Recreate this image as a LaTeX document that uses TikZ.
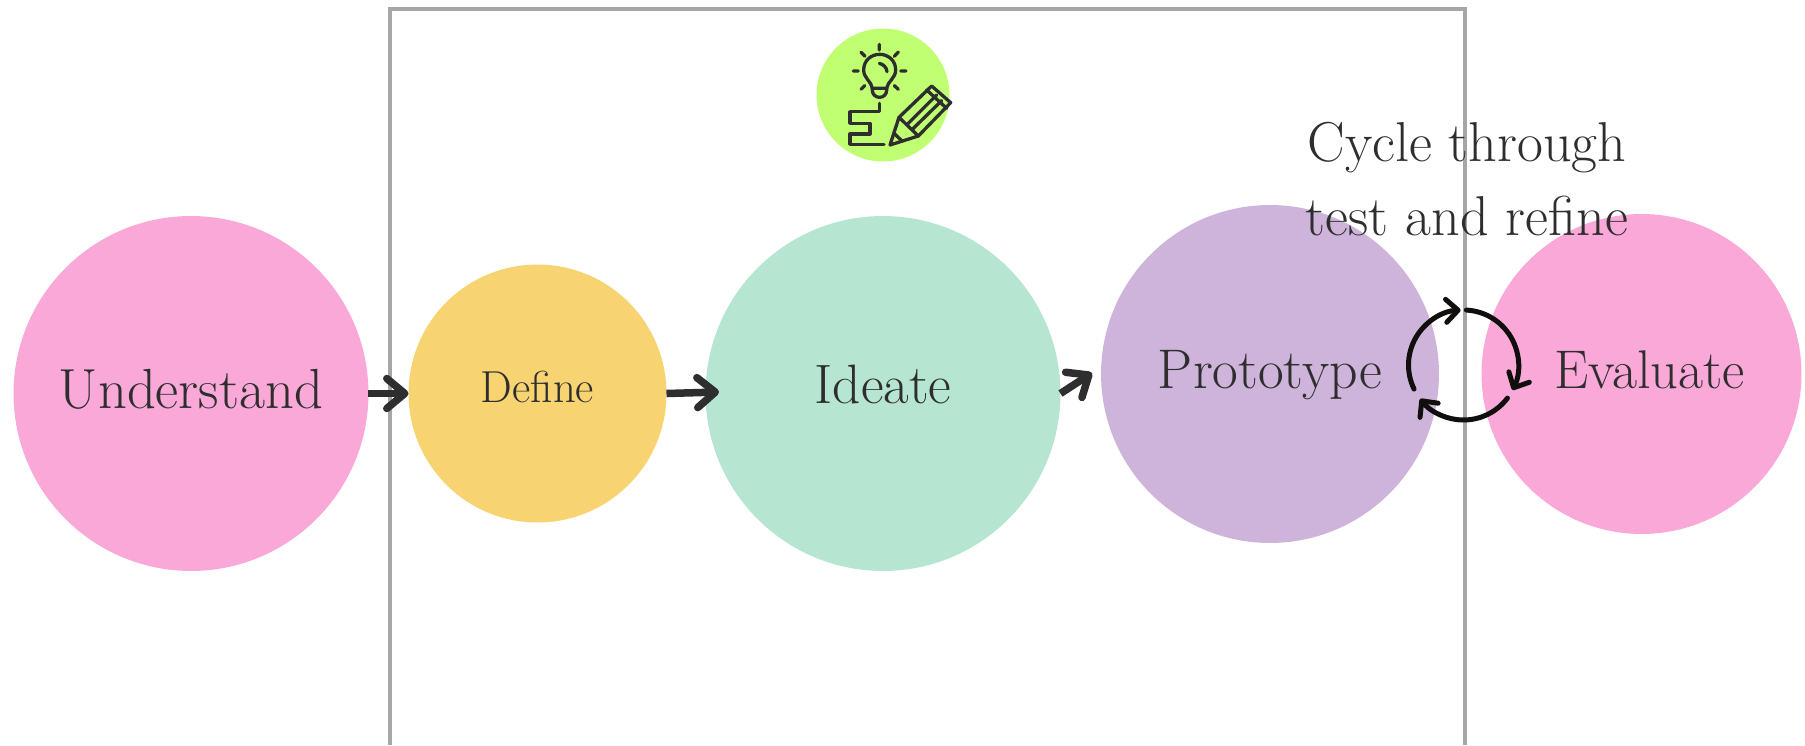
\documentclass[tikz,border=0pt]{standalone}
\usepackage{tikz}
\usetikzlibrary{calc,arrows.meta,positioning}
\definecolor{pinkfill}{HTML}{F9A8D8}
\definecolor{yellowfill}{HTML}{F7D372}
\definecolor{mintfill}{HTML}{B6E6D1}
\definecolor{lilacfill}{HTML}{CEB4DB}
\definecolor{limefill}{HTML}{C1FF72}
\definecolor{framegray}{HTML}{A6A6A6}
\definecolor{inkdark}{HTML}{2E2E2E}
\definecolor{inkblack}{HTML}{100F0D}
\begin{document}
\begin{tikzpicture}[x=0.02cm,y=0.02cm,
        stage/.style={circle,inner sep=0pt,outer sep=0pt,text=inkdark,text depth=0pt,text height=16pt},
        stagearrow/.style={draw=inkdark,line width=0.15cm,-{Straight Barb[round,length=0.36cm,width=0.6cm]}},
        cyclearrow/.style={draw=inkblack,line width=0.1cm,line cap=round,-{Straight Barb[round,length=0.24cm,width=0.46cm]}},
        iconline/.style={draw=inkdark,line width=0.066cm,line cap=round,line join=round}]
    \useasboundingbox (0,0) rectangle (1805,745);
    %frame, open at the bottom
    \draw[framegray,line width=0.08cm] (390,0) -- (390,736) -- (1465,736) -- (1465,0);
    %stages
    \node[stage,fill=pinkfill,minimum size=7.1cm,font=\fontsize{32.2}{38}\selectfont,text height=17.6pt] (understand) at (191,351.5) {Understand};
    \node[stage,fill=yellowfill,minimum size=5.16cm,font=\fontsize{25.5}{30}\selectfont,text height=10.7pt] (define) at (537.5,351.5) {Define};
    \node[stage,fill=mintfill,minimum size=7.1cm,font=\fontsize{31.6}{38}\selectfont,text height=11.4pt] (ideate) at (883,351.5) {Ideate};
    \node[stage,fill=lilacfill,minimum size=6.76cm,font=\fontsize{31.8}{38}\selectfont] (prototype) at (1270,371) {Prototype};
    \node[stage,fill=pinkfill,minimum size=6.4cm,font=\fontsize{31}{37}\selectfont] (evaluate) at (1641.5,371) {\hspace*{0.32cm}Evaluate};
    \node[circle,fill=limefill,inner sep=0pt,minimum size=2.66cm] (idea) at (883,650) {};
    %arrows between the stages
    \coordinate (ideatein) at (719,353);
    \coordinate (prototypein) at (1092,372);
    \draw[stagearrow] (understand.east) -- (define.west);
    \draw[stagearrow] (define.east) -- (ideatein);
    \draw[stagearrow] (ideate.east) -- (prototypein);
    %cycle
    \coordinate (cyclemid) at (1463.5,380);
    \foreach \from/\to in {206/93,87/-27,-37/-142}
        \draw[cyclearrow] (cyclemid) ++(\from:55) arc[start angle=\from,end angle=\to,radius=55];
    \node[text=inkdark,align=center,font=\fontsize{32}{42}\selectfont] (cycletext) at (1467,566) {Cycle through\\test and refine};
    %icon, in the lime circle
    \begin{scope}[shift={(790,735)},x=0.00667cm,y=-0.00667cm]
        \draw[iconline] (247,235) .. controls (245,215) and (221,205) .. (221,180) .. controls (221,150) and (245,133) .. (269,133) .. controls (293,133) and (317,150) .. (317,180) .. controls (317,205) and (292,215) .. (290,235) -- cycle;
        \draw[iconline,rounded corners=4pt] (247,235) -- (247,262) -- (290,262) -- (290,235);
        \draw[iconline] (268,160) .. controls (280,163) and (290,172) .. (291,185);
        \draw[iconline] (268,103) -- (268,120) (213,127) -- (225,139) (325,126) -- (313,139) (190,183) -- (205,183) (332,183) -- (348,183) (213,238) -- (224,227) (325,238) -- (313,227);
        \draw[iconline] (268,280) -- (268,305) -- (180,305) -- (180,340) -- (240,340) -- (240,372) -- (180,372) -- (180,403) -- (282,403);
        \draw[iconline] (300,405) -- (327,322) -- (425,228) -- (482,278) -- (385,378) -- cycle;
        \draw[iconline] (327,322) -- (385,378) (350,345) -- (440,255) (365,360) -- (455,272) (410,240) -- (470,295) (312,370) -- (335,392);
    \end{scope}
\end{tikzpicture}
\end{document}
